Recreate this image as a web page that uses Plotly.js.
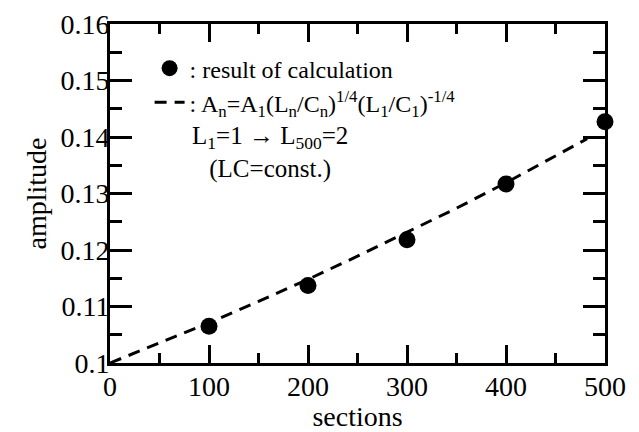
<!DOCTYPE html>
<html>
<head>
<meta charset="utf-8">
<script src="https://cdn.plot.ly/plotly-3.0.1.min.js"></script>
<style>
  html, body { margin: 0; padding: 0; background: #fff; }
  .c { width: 639px; height: 432px; position: absolute; left: 0; top: 0; }
  #note { position: absolute; right: 2px; bottom: 2px; font: 6px monospace; color: #fff; }
</style>
</head>
<body>
<div id="holder"></div>
<div id="note"></div>
<script>
var messages = [];
function note(s) { messages.push(s); document.getElementById('note').textContent = messages.length ? '.' : ''; }
console.warn = function () { messages.push(Array.prototype.join.call(arguments, ' ')); };
window.onerror = function (m) { note('err ' + m); };

// calculated amplitudes (dots)
var sections = [100, 200, 300, 400, 500];
var amplitude = [0.1065, 0.1137, 0.1218, 0.1317, 0.1427];

// dashed theoretical curve
var curveSections = [0, 50, 100, 150, 200, 250, 300, 350, 400, 450, 482];
var curveAmplitude = [0.1, 0.1035, 0.1071, 0.1109, 0.1148, 0.1189, 0.1231, 0.1274, 0.1319, 0.1366, 0.1397];

var serif = 'Liberation Serif';

var dots = {
  x: sections,
  y: amplitude,
  type: 'scatter',
  mode: 'markers',
  name: ': result of calculation',
  marker: {color: '#000', size: 17},
  cliponaxis: false
};

var curve = {
  x: curveSections,
  y: curveAmplitude,
  type: 'scatter',
  mode: 'lines',
  name: ': A<sub>n</sub>=A<sub>1</sub>(L<sub>n</sub>/C<sub>n</sub>)<sup>1/4</sup>(L<sub>1</sub>/C<sub>1</sub>)<sup>-1/4</sup>',
  line: {color: '#000', width: 3, dash: '12px,8px'}
};

var layout = {
  width: 639,
  height: 432,
  margin: {l: 110, r: 34, t: 24, b: 69},
  paper_bgcolor: '#fff',
  plot_bgcolor: '#fff',
  // tick labels take this font
  font: {family: serif, color: '#000', size: 28},
  showlegend: true,
  legend: {
    x: 0.08, y: 0.935, xanchor: 'left', yanchor: 'top',
    bgcolor: 'rgba(0,0,0,0)',
    font: {family: serif, size: 24, color: '#000'},
    tracegroupgap: 0
  },
  xaxis: {
    range: [0, 500],
    dtick: 100,
    ticks: 'inside',
    ticklen: 18,
    tickwidth: 3,
    tickcolor: '#000',
    minor: {dtick: 50, ticks: 'inside', ticklen: 10, tickwidth: 3, tickcolor: '#000'},
    showline: true,
    linewidth: 3,
    linecolor: '#000',
    mirror: 'allticks',
    showgrid: false,
    zeroline: false,
    ticklabelstandoff: -4,
    title: {text: 'sections', font: {family: serif, size: 28}, standoff: 0}
  },
  yaxis: {
    range: [0.1, 0.16],
    dtick: 0.01,
    ticks: 'inside',
    ticklen: 22,
    tickwidth: 3,
    tickcolor: '#000',
    minor: {dtick: 0.005, ticks: 'inside', ticklen: 12, tickwidth: 3, tickcolor: '#000'},
    showline: true,
    linewidth: 3,
    linecolor: '#000',
    mirror: 'allticks',
    showgrid: false,
    zeroline: false,
    ticklabelstandoff: -8,
    title: {text: 'amplitude', font: {family: serif, size: 28}, standoff: 6}
  },
  annotations: [{
    x: 162, y: 0.1372, xref: 'x', yref: 'y',
    text: 'L<sub>1</sub>=1 → L<sub>500</sub>=2<br>(LC=const.)',
    showarrow: false,
    align: 'center',
    font: {family: serif, size: 25, color: '#000'}
  }]
};

Promise.resolve().then(function () {
  var gd = document.createElement('div');
  gd.className = 'c';
  gd.id = 'chart';
  document.getElementById('holder').appendChild(gd);
  return Plotly.newPlot(gd, [dots, curve], layout, {displayModeBar: false}).then(function () {
    var ticks = gd.querySelectorAll('path.xtick').length + gd.querySelectorAll('path.ytick').length;
    var tx = gd.querySelector('.xtick text');
    note('ticks ' + ticks + ' ' + (tx ? getComputedStyle(tx).fontFamily : ''));
  }, function (e) { note('reject ' + e); });
});
</script>
</body>
</html>
